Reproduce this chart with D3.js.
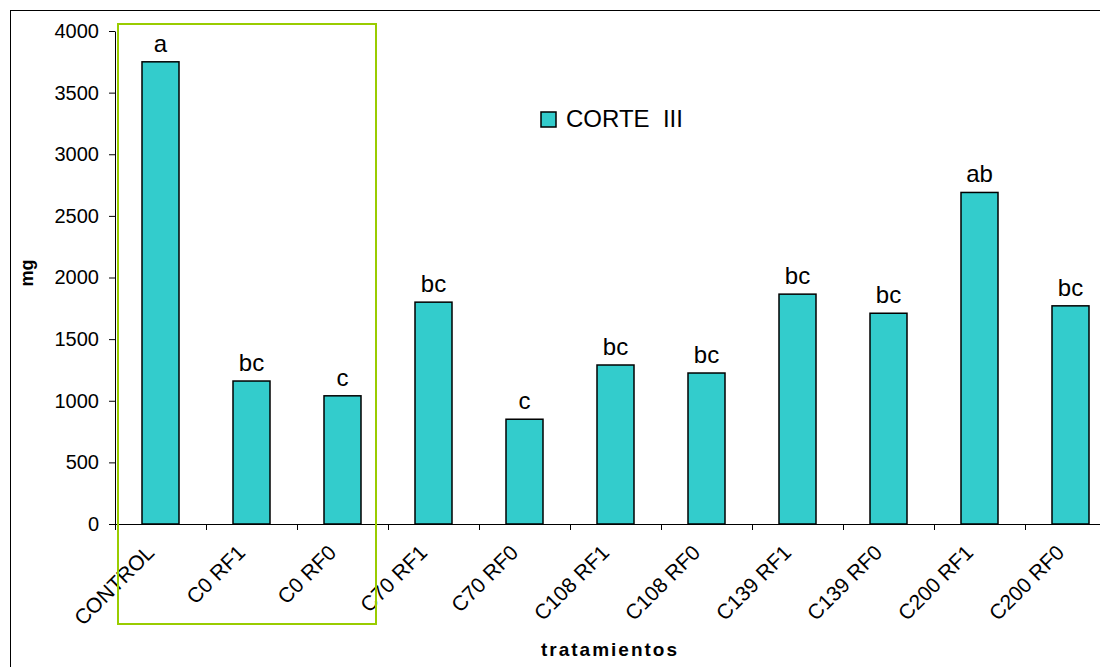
<!DOCTYPE html>
<html>
<head>
<meta charset="utf-8">
<script src="https://cdn.jsdelivr.net/npm/d3@7"></script>
<style>
  html, body { margin: 0; padding: 0; background: #fff; }
  svg { display: block; font-family: "Liberation Sans", Arial, sans-serif; }
</style>
</head>
<body>
<svg id="chart" width="1100" height="667"></svg>
<script>
// Treatments and dry matter (mg), cut III
const categories = ["CONTROL", "C0 RF1", "C0 RF0", "C70 RF1", "C70 RF0", "C108 RF1",
                    "C108 RF0", "C139 RF1", "C139 RF0", "C200 RF1", "C200 RF0"];
const values = [3750, 1160, 1040, 1800, 850, 1290, 1225, 1865, 1710, 2690, 1770];
const letters = ["a", "bc", "c", "bc", "c", "bc", "bc", "bc", "bc", "ab", "bc"];
const yTicks = [0, 500, 1000, 1500, 2000, 2500, 3000, 3500, 4000];
const seriesName = "CORTE  III";
const highlighted = ["CONTROL", "C0 RF1", "C0 RF0"];

const svg = d3.select("#chart");
const fill = "#33cccc";
const fontFamily = "Liberation Sans, Arial, sans-serif";

// outer chart frame
svg.append("rect")
  .attr("x", 10.5).attr("y", 10.5)
  .attr("width", 1200).attr("height", 800)
  .attr("fill", "none").attr("stroke", "#000").attr("stroke-width", 1);

const plotLeft = 115, plotRight = 1116, plotTop = 31, plotBottom = 524;

const xb = d3.scaleBand().domain(categories).range([plotLeft, plotRight]);
const y = d3.scaleLinear().domain([0, 4000]).range([plotBottom, plotTop]);
const barW = 37;

// y axis
const yAxis = svg.append("g")
  .attr("transform", `translate(${plotLeft},0)`)
  .call(d3.axisLeft(y).tickValues(yTicks).tickFormat(d3.format("d"))
    .tickSize(6).tickPadding(10).tickSizeOuter(0));
yAxis.select(".domain").attr("stroke", "#000");
yAxis.selectAll(".tick line").attr("stroke", "#000");
yAxis.selectAll(".tick text").attr("font-size", 20).attr("fill", "#000")
  .attr("font-family", fontFamily);

// bars
svg.append("g").selectAll("rect")
  .data(categories)
  .join("rect")
  .attr("x", (d) => xb(d) + (xb.bandwidth() - barW) / 2)
  .attr("y", (d, i) => y(values[i]))
  .attr("width", barW)
  .attr("height", (d, i) => y(0) - y(values[i]))
  .attr("fill", fill)
  .attr("stroke", "#000")
  .attr("stroke-width", 1.5);

// x axis with ticks between categories
const xAxis = svg.append("g").attr("transform", `translate(0,${plotBottom})`);
xAxis.append("line")
  .attr("x1", plotLeft).attr("x2", plotRight).attr("y1", 0.5).attr("y2", 0.5)
  .attr("stroke", "#000");
xAxis.selectAll("line.tk")
  .data(categories)
  .join("line")
  .attr("class", "tk")
  .attr("x1", (d) => Math.round(xb(d)) + 0.5)
  .attr("x2", (d) => Math.round(xb(d)) + 0.5)
  .attr("y1", 0).attr("y2", 6)
  .attr("stroke", "#000");
xAxis.selectAll("text")
  .data(categories)
  .join("text")
  .attr("transform", (d) => `translate(${xb(d) + xb.bandwidth() / 2 - 5},${30}) rotate(-45)`)
  .attr("text-anchor", "end")
  .attr("font-size", 21)
  .attr("fill", "#000")
  .text((d) => d);

// significance letters
svg.append("g").selectAll("text")
  .data(categories)
  .join("text")
  .attr("x", (d) => xb(d) + xb.bandwidth() / 2)
  .attr("y", (d, i) => y(values[i]) - 10)
  .attr("text-anchor", "middle")
  .attr("font-size", 24)
  .attr("fill", "#000")
  .text((d, i) => letters[i]);

// axis titles
svg.append("text")
  .attr("transform", `translate(33,273) rotate(-90)`)
  .attr("text-anchor", "middle")
  .attr("font-size", 18).attr("font-weight", "bold")
  .text("mg");
svg.append("text")
  .attr("x", 610).attr("y", 656)
  .attr("text-anchor", "middle")
  .attr("font-size", 19).attr("font-weight", "bold")
  .attr("letter-spacing", 2)
  .text("tratamientos");

// legend
const lg = svg.append("g").attr("transform", "translate(541,112)");
lg.append("rect").attr("width", 15).attr("height", 15)
  .attr("fill", fill).attr("stroke", "#000").attr("stroke-width", 1.5);
lg.append("text").attr("x", 25).attr("y", 15)
  .attr("font-size", 24).attr("fill", "#000")
  .style("white-space", "pre")
  .text(seriesName);

// highlight box around the control group
const hx0 = xb(highlighted[0]) + 3;
const hx1 = xb(highlighted[highlighted.length - 1]) + xb.bandwidth() - 12;
svg.append("rect")
  .attr("x", hx0).attr("y", 24)
  .attr("width", hx1 - hx0).attr("height", 600)
  .attr("fill", "none")
  .attr("stroke", "#99cc00")
  .attr("stroke-width", 2);
</script>
</body>
</html>
